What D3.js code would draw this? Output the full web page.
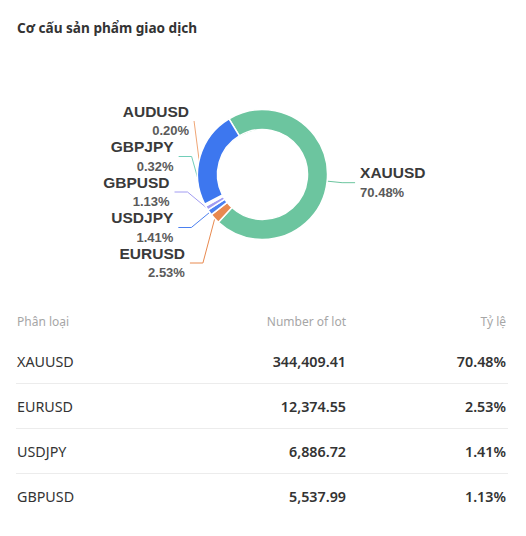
<!DOCTYPE html>
<html>
<head>
<meta charset="utf-8">
<script src="https://cdn.jsdelivr.net/npm/d3@7/dist/d3.min.js"></script>
<style>
  html, body { margin: 0; padding: 0; background: #fff; }
  svg { display: block; font-family: "Noto Sans", "Open Sans", sans-serif; }
  .lbl { font-family: "Liberation Sans", Arial, sans-serif; }
</style>
</head>
<body>
<svg id="chart" width="526" height="536"></svg>
<script>
// ---- data ----
const titleText = "Cơ cấu sản phẩm giao dịch";
const categories = ["XAUUSD", "EURUSD", "USDJPY", "GBPUSD", "GBPJPY", "AUDUSD", "Khác"];
const shares = [70.48, 2.53, 1.41, 1.13, 0.32, 0.20, 23.93];
const labeled = ["XAUUSD", "EURUSD", "USDJPY", "GBPUSD", "GBPJPY", "AUDUSD"];
const sliceColors = ["#6cc59f", "#e8894f", "#4b80f0", "#a29cf2", "#72ceb9", "#f0a676", "#3d77ef"];

const tableHeaders = ["Phân loại", "Number of lot", "Tỷ lệ"];
const tableCategories = ["XAUUSD", "EURUSD", "USDJPY", "GBPUSD"];
const tableLots = [344409.41, 12374.55, 6886.72, 5537.99];

// ---- layout ----
const svg = d3.select("#chart");
const cx = 262.5, cy = 174.5, rIn = 45, rOut = 65;
const start = -31 * Math.PI / 180;

svg.append("text")
  .attr("x", 17).attr("y", 27)
  .attr("dominant-baseline", "central")
  .attr("font-size", 13.6).attr("font-weight", 700).attr("fill", "#333")
  .text(titleText);

const data = categories.map((c, i) => ({ name: c, value: shares[i], color: sliceColors[i] }));
const pie = d3.pie().sort(null).value(d => d.value).startAngle(start).endAngle(start + 2 * Math.PI);
const arcs = pie(data);
const arc = d3.arc().innerRadius(rIn).outerRadius(rOut);

const g = svg.append("g").attr("transform", `translate(${cx},${cy})`);
const lineG = g.append("g");
const sliceG = g.append("g");
const labelG = g.append("g").attr("class", "lbl");

// label layout
const labelArcs = arcs.filter(a => labeled.includes(a.data.name)).map(a => {
  const mid = (a.startAngle + a.endAngle) / 2;
  const r1 = rOut + 15;
  return {
    a, mid,
    px: Math.sin(mid) * rOut, py: -Math.cos(mid) * rOut,
    nx: Math.sin(mid) * r1, ny: -Math.cos(mid) * r1,
    right: Math.sin(mid) >= 0
  };
});

const pitch = 35.5, bottomLimit = 88.5, len2 = 13;
function layoutSide(items) {
  items.sort((p, q) => p.ny - q.ny);
  const mean = d3.mean(items, d => d.ny);
  const n = items.length;
  let ys = items.map((d, i) => mean + (i - (n - 1) / 2) * pitch);
  let overlap = false;
  for (let i = 1; i < n; i++) if (items[i].ny - items[i - 1].ny < pitch) overlap = true;
  if (!overlap) ys = items.map(d => d.ny);
  const shift = Math.min(0, bottomLimit - ys[n - 1]);
  items.forEach((d, i) => { d.y = ys[i] + shift; });
}
const leftItems = labelArcs.filter(d => !d.right);
const rightItems = labelArcs.filter(d => d.right);
layoutSide(leftItems);
layoutSide(rightItems);

leftItems.forEach(d => {
  const A = 88, B = d.y > 15 ? 130 : 109, dy = d.y - 15;
  d.ex = -A * Math.sqrt(Math.max(0, 1 - (dy / B) * (dy / B)));
  d.elx = d.ex + len2;
  const v1 = [d.px - d.elx, d.py - d.y], v2 = [d.ex - d.elx, 0];
  const cos = (v1[0] * v2[0] + v1[1] * v2[1]) / (Math.hypot(...v1) * Math.hypot(...v2));
  d.straight = cos > 0;
});
rightItems.forEach(d => {
  d.elx = d.nx;
  d.ex = d.nx + len2;
  d.straight = false;
});

labelArcs.forEach(d => {
  const pts = d.straight ? [[d.px, d.py], [d.ex, d.y]] : [[d.px, d.py], [d.elx, d.y], [d.ex, d.y]];
  lineG.append("path")
    .attr("d", d3.line()(pts))
    .attr("fill", "none")
    .attr("stroke", d.a.data.color)
    .attr("stroke-width", 1);
  const tx = d.right ? d.ex + 5 : d.ex - 5;
  const anchor = d.right ? "start" : "end";
  labelG.append("text")
    .attr("x", tx).attr("y", d.y - 10)
    .attr("text-anchor", anchor).attr("dominant-baseline", "central")
    .attr("font-size", 15.5).attr("font-weight", 700).attr("fill", "#3a3a3a")
    .text(d.a.data.name);
  labelG.append("text")
    .attr("x", tx).attr("y", d.y + 9.5)
    .attr("text-anchor", anchor).attr("dominant-baseline", "central")
    .attr("font-size", 13).attr("font-weight", 700).attr("fill", "#5a5a5a")
    .text(d3.format(".2f")(d.a.data.value) + "%");
});

sliceG.selectAll("path").data(arcs).join("path")
  .attr("d", arc)
  .attr("fill", d => d.data.color)
  .attr("stroke", "#fff")
  .attr("stroke-width", 1.5)
  .attr("stroke-linejoin", "round");

// ---- table ----
const colX = [17, 346, 506];
const colAnchor = ["start", "end", "end"];
const headerY = 321, rowY0 = 361, rowH = 45;
const tbl = svg.append("g");
tableHeaders.forEach((h, i) => {
  tbl.append("text")
    .attr("x", colX[i]).attr("y", headerY)
    .attr("text-anchor", colAnchor[i]).attr("dominant-baseline", "central")
    .attr("font-size", 12).attr("fill", "#a6a6a6")
    .text(h);
});
const shareOf = name => shares[categories.indexOf(name)];
tableCategories.forEach((c, r) => {
  const y = rowY0 + r * rowH;
  tbl.append("text").attr("x", colX[0]).attr("y", y)
    .attr("dominant-baseline", "central")
    .attr("font-size", 14.3).attr("fill", "#333").text(c);
  tbl.append("text").attr("x", colX[1]).attr("y", y)
    .attr("text-anchor", "end").attr("dominant-baseline", "central")
    .attr("font-size", 14.3).attr("font-weight", 600).attr("fill", "#333")
    .text(d3.format(",.2f")(tableLots[r]));
  tbl.append("text").attr("x", colX[2]).attr("y", y)
    .attr("text-anchor", "end").attr("dominant-baseline", "central")
    .attr("font-size", 14.3).attr("font-weight", 600).attr("fill", "#333")
    .text(d3.format(".2f")(shareOf(c)) + "%");
  if (r < tableCategories.length - 1) {
    tbl.append("line")
      .attr("x1", 16).attr("x2", 508)
      .attr("y1", y + 22.5).attr("y2", y + 22.5)
      .attr("stroke", "#ececec").attr("stroke-width", 1);
  }
});
</script>
</body>
</html>
